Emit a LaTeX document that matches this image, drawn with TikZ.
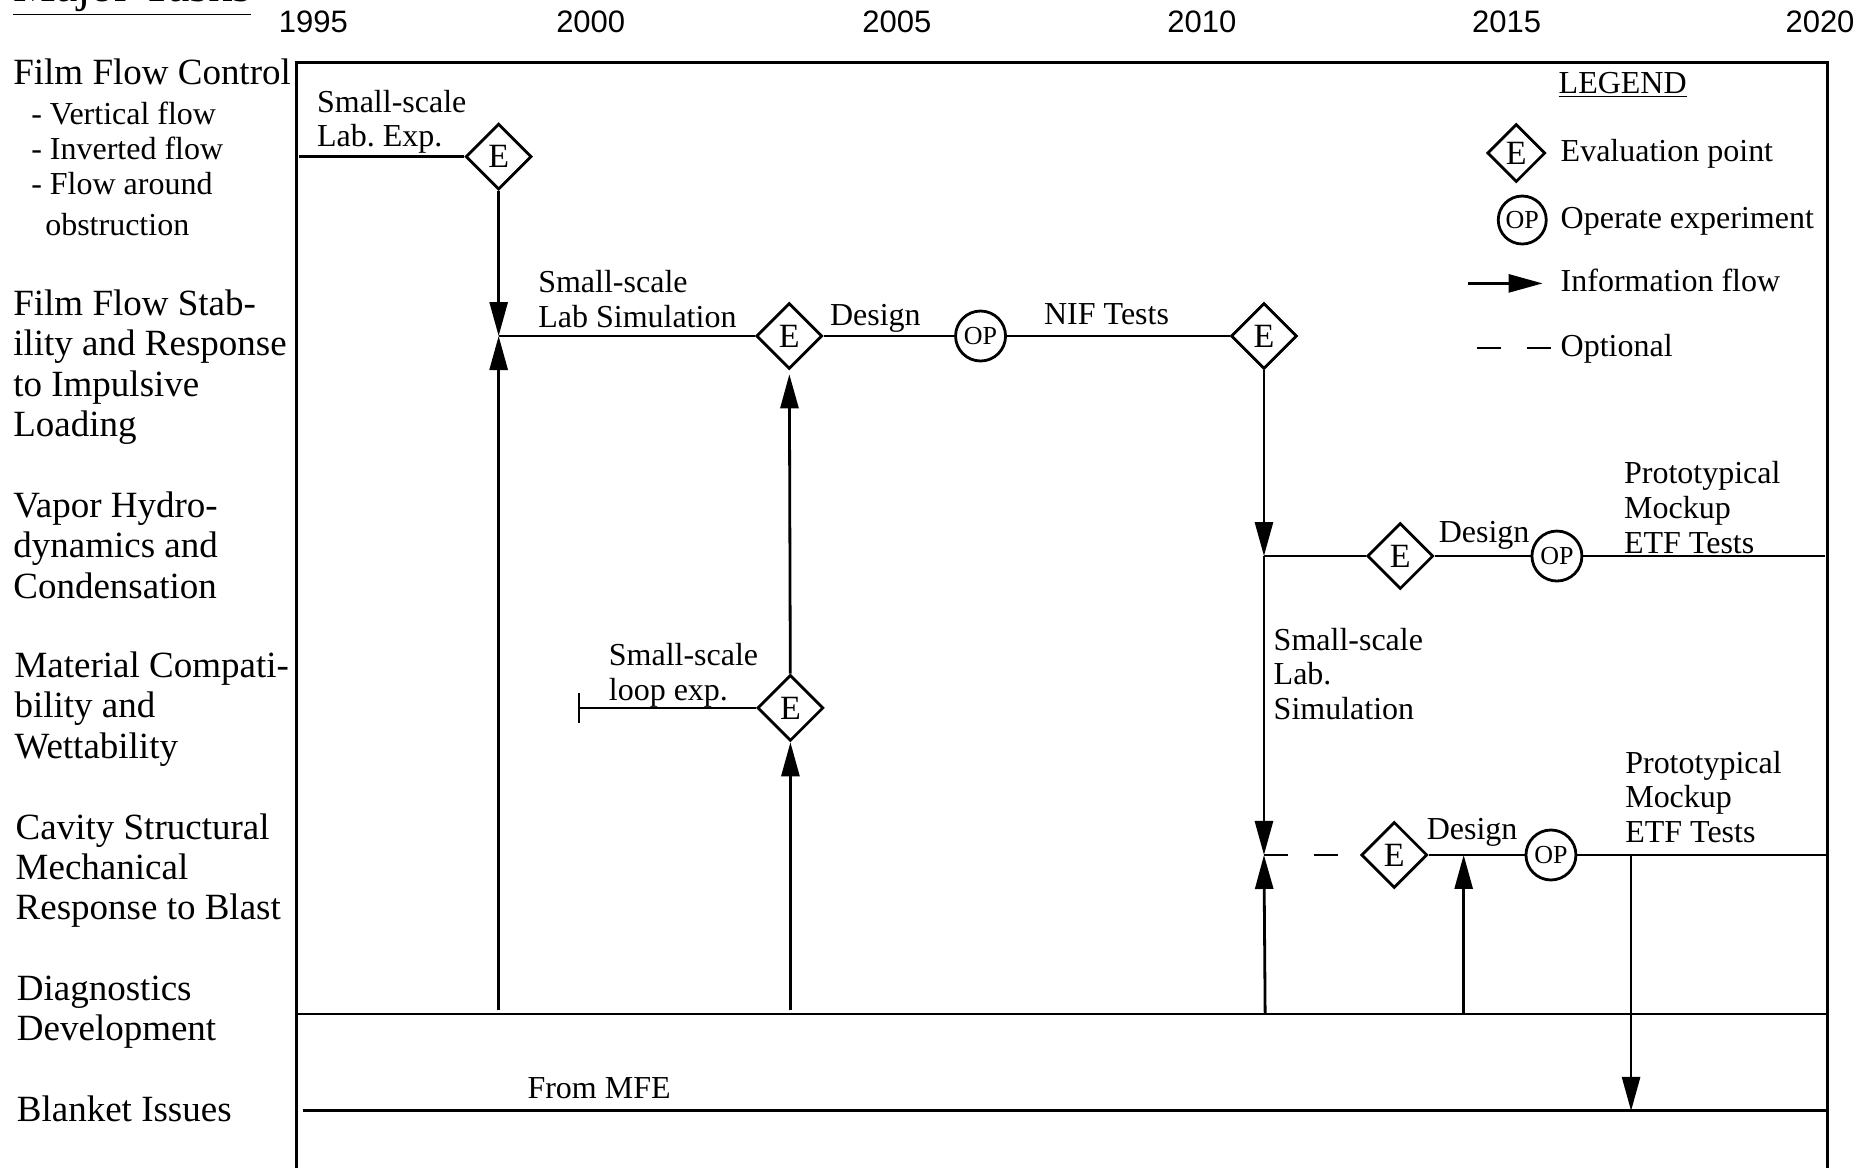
\documentclass[tikz,border=0pt]{standalone}
\usepackage{fontspec}
\setmainfont{Liberation Serif}
\newfontfamily\yearfont{Liberation Sans}
\usetikzlibrary{arrows.meta,shapes.geometric,positioning}
\frenchspacing

\begin{document}
\begin{tikzpicture}[x=0.598pt,y=-0.598pt,line width=1.4pt,
                    >={Triangle[length=17pt,width=9pt]}]
  \tikzstyle{evalpoint}=[diamond,draw,fill=white,inner sep=0pt,minimum size=33pt,font=\fontsize{17}{17}\selectfont]
  \tikzstyle{operate}=[circle,draw,fill=white,inner sep=0pt,minimum size=25pt,font=\fontsize{13}{13}\selectfont]
  \tikzstyle{task}=[anchor=north west,align=left,inner sep=0pt,font=\fontsize{18.5}{20.2}\selectfont]
  \tikzstyle{note}=[anchor=north west,align=left,inner sep=0pt,font=\fontsize{16}{17.3}\selectfont]
  \tikzstyle{tag}=[anchor=base west,inner sep=0pt,font=\fontsize{16}{17.3}\selectfont]
  \tikzstyle{year}=[font=\yearfont\fontsize{15.5}{16}\selectfont]
  \tikzstyle{optional}=[dash pattern=on 12pt off 13pt]

  \useasboundingbox (0,0) rectangle (1568,976);

  % header and years
  \node[anchor=base west,inner sep=0pt,font=\fontsize{24}{26}\selectfont] (head) at (10,1) {\underline{Major Tasks}};
  \foreach \yr/\xx in {1995/262,2000/494,2005/750,2010/1005,2015/1260,2020/1522}
    \node[year] (y\yr) at (\xx,18) {\yr};

  % task column
  \node[task] (flow)    at (10,48)  {Film Flow Control};
  \node[note,font=\fontsize{16}{17.6}\selectfont] (subs) at (25,84)
        {- Vertical flow\\- Inverted flow\\- Flow around\\[3pt]\hspace*{7pt}obstruction};
  \node[task] (stab)    at (10,241) {Film Flow Stab-\\ility and Response\\to Impulsive\\Loading};
  \node[task] (vapor)   at (10,410) {Vapor Hydro-\\dynamics and\\Condensation};
  \node[task] (mater)   at (11,544) {Material Compati-\\bility and\\Wettability};
  \node[task] (cavity)  at (12,679) {Cavity Structural\\Mechanical\\Response to Blast};
  \node[task] (diag)    at (13,815) {Diagnostics\\Development};
  \node[task] (blanket) at (13,915) {Blanket Issues};

  % frame and row lines
  \draw[line width=1.6pt] (248,990) -- (248,52) -- (1528,52) -- (1528,990);
  \coordinate (dl) at (248,848);  \coordinate (dr) at (1528,848);
  \coordinate (bl) at (253,929);  \coordinate (br) at (1528,929);
  \draw (dl) -- (dr);
  \draw (bl) -- (br);
  \node[tag] (mfe) at (440,919) {From MFE};

  % legend
  \node[font=\fontsize{16}{17}\selectfont] (legend) at (1357,71) {\underline{LEGEND}};
  \node[evalpoint,minimum size=29pt] (lgE) at (1268,128) {E};
  \node[operate,minimum size=24pt] (lgOP) at (1273,184) {OP};
  \coordinate (lgA1) at (1228,237); \coordinate (lgA2) at (1290,237);
  \coordinate (lgD1) at (1235,291); \coordinate (lgD2) at (1297,291);
  \draw[->] (lgA1) -- (lgA2);
  \draw[optional] (lgD1) -- (lgD2);
  \node[tag] at (1304,135) {Evaluation point};
  \node[tag] at (1304,191) {Operate experiment};
  \node[tag] at (1304,244) {Information flow};
  \node[tag] at (1304,298) {Optional};

  % film flow control row
  \coordinate (s1) at (250,131);
  \node[evalpoint] (E1) at (417,131) {E};
  \node[note] (lab1) at (264,74) {Small-scale\\Lab. Exp.};
  \draw (s1) -- (E1);

  % film flow stability row
  \coordinate (j2) at (417,281);
  \coordinate (d1) at (417,845);
  \node[evalpoint] (E2) at (660,281) {E};
  \node[operate] (OP1) at (820,281) {OP};
  \node[evalpoint] (E3) at (1057,281) {E};
  \node[note] (lab2) at (449,225) {Small-scale\\Lab Simulation};
  \node[tag] at (693,272) {Design};
  \node[tag] at (872,271) {NIF Tests};
  \draw[->] (E1) -- (j2);
  \draw[->] (d1) -- (j2);
  \draw (j2) -- (E2) -- (OP1) -- (E3);

  % material compatibility row
  \coordinate (s4) at (483,592);
  \coordinate (d2) at (661,845);
  \node[evalpoint] (E4) at (661,592) {E};
  \node[note] (lab4) at (508,537) {Small-scale\\loop exp.};
  \draw[{Bar[width=15pt]}-] (s4) -- (E4);
  \draw[->] (d2) -- (E4);
  \draw[->,shorten >=2pt] (E4) -- (E2);

  % vapor row
  \coordinate (j3) at (1057,465);
  \coordinate (r3) at (1526,465);
  \node[evalpoint] (E5) at (1171,465) {E};
  \node[operate] (OP2) at (1302,465) {OP};
  \node[tag] at (1202,454) {Design};
  \node[note] (lab5) at (1357,385) {Prototypical\\Mockup\\ETF Tests};
  \draw[->] (E3) -- (j3);
  \draw (j3) -- (E5) -- (OP2) -- (r3);

  % cavity row
  \coordinate (j5) at (1057,715);
  \coordinate (d3) at (1058,848);
  \coordinate (t4) at (1224,715);
  \coordinate (d4) at (1224,848);
  \coordinate (f5) at (1364,715);
  \coordinate (b5) at (1364,929);
  \coordinate (r5) at (1528,715);
  \node[evalpoint] (E6) at (1166,715) {E};
  \node[operate] (OP3) at (1297,715) {OP};
  \node[note] (lab6) at (1064,524) {Small-scale\\Lab.\\Simulation};
  \node[tag] at (1192,702) {Design};
  \node[note] (lab7) at (1358,627) {Prototypical\\Mockup\\ETF Tests};
  \draw[->] (j3) -- (j5);
  \draw[->] (d3) -- (j5);
  \draw[optional] (j5) -- (E6);
  \draw (E6) -- (OP3) -- (r5);
  \draw[->] (d4) -- (t4);
  \draw[->] (f5) -- (b5);
\end{tikzpicture}
\end{document}
